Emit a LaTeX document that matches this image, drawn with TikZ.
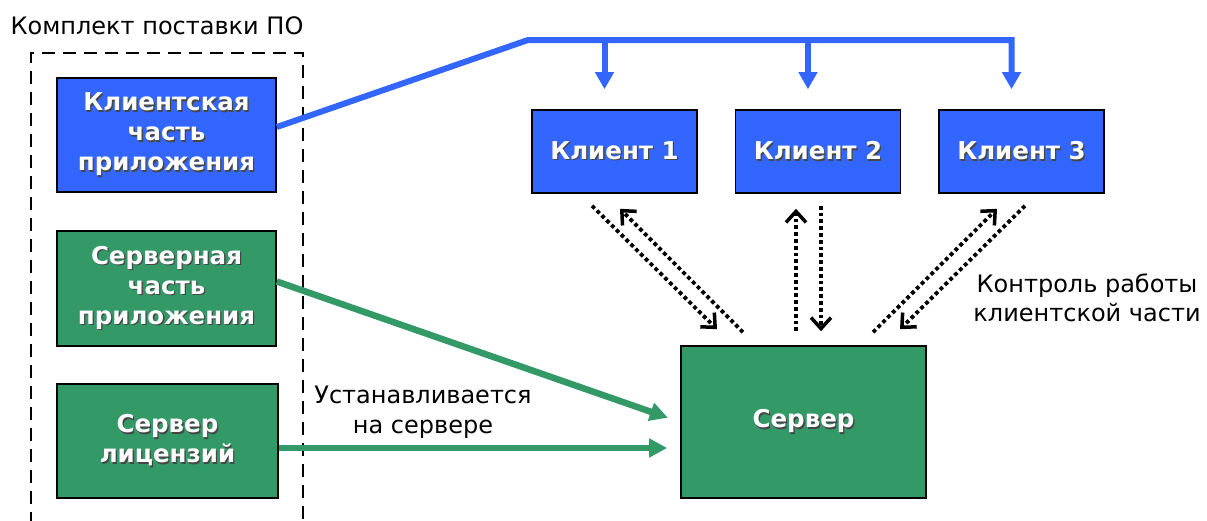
\documentclass[tikz,border=0pt]{standalone}
\usepackage{fontspec}
\setmainfont{DejaVu Sans}
\usetikzlibrary{arrows.meta,calc}
\definecolor{cblue}{RGB}{51,102,255}
\definecolor{cgreen}{RGB}{51,153,102}
\definecolor{shad}{RGB}{70,70,70}
\newcommand{\sht}[1]{\leavevmode\rlap{\raisebox{-1.3pt}{\hspace{1.3pt}\textcolor{shad}{#1}}}#1}
\begin{document}
\begin{tikzpicture}[x=1pt,y=-1pt,
  box/.style={draw=black,line width=1.6pt,inner sep=0pt,text=white,align=center,
    font=\fontsize{24.5}{30}\selectfont\bfseries},
  bluebox/.style={box,fill=cblue},
  greenbox/.style={box,fill=cgreen},
  lbl/.style={align=center,font=\fontsize{24}{29.5}\selectfont,inner sep=0pt},
  busline/.style={draw=cblue,line width=6pt,line join=miter},
  busarrow/.style={busline,-{Triangle[length=17pt,width=18pt]},shorten >=20pt},
  greenarrow/.style={draw=cgreen,line width=6.5pt,-{Triangle[length=18pt,width=18pt]},shorten >=13pt},
  dotarrow/.style={draw=black,line width=3.8pt,dash pattern=on 3.8pt off 3pt,
    -{Straight Barb[length=11pt,width=20pt,line width=3.5pt]}},
  frame/.style={draw=black,line width=2.3pt,dash pattern=on 13pt off 8pt}
]
\useasboundingbox (0,0) rectangle (1207,520);

% title
\node[lbl] (title) at (157,26) {Комплект поставки ПО};
% package frame
\draw[frame] (31,525) -- (31,53) -- (303,53) -- (303,525);

% left boxes
\node[bluebox,minimum width=219pt,minimum height=114pt] (cp) at (166.5,135)
  {\sht{Клиентская}\\\sht{часть}\\\sht{приложения}};
\node[greenbox,minimum width=219pt,minimum height=115pt] (sp) at (166.5,288.5)
  {\sht{Серверная}\\\sht{часть}\\\sht{приложения}};
\node[greenbox,minimum width=221pt,minimum height=114pt] (ls) at (167.5,441)
  {\sht{Сервер}\\\sht{лицензий}};

% clients
\node[bluebox,minimum width=165pt,minimum height=83pt] (k1) at (614.5,151.5) {\sht{Клиент 1}};
\node[bluebox,minimum width=165pt,minimum height=83pt] (k2) at (818,151.5) {\sht{Клиент 2}};
\node[bluebox,minimum width=165pt,minimum height=83pt] (k3) at (1021.5,151.5) {\sht{Клиент 3}};

% server
\node[greenbox,minimum width=245pt,minimum height=152pt] (srv) at (803.5,422) {\sht{Сервер}};

% blue bus
\coordinate (b0) at (528,40);
\draw[busarrow] ([yshift=8pt]cp.east) -- (b0) -- ([xshift=-10pt]k3.north |- b0) -- ([xshift=-10pt]k3.north);
\draw[busarrow] ([xshift=-10pt]k1.north |- b0) -- ([xshift=-10pt]k1.north);
\draw[busarrow] ([xshift=-10pt]k2.north |- b0) -- ([xshift=-10pt]k2.north);

% green arrows
\draw[greenarrow] ([yshift=7pt]sp.east) -- (srv.west);
\draw[greenarrow] ([yshift=-7pt]ls.east) -- ([yshift=-26pt]srv.west);

% labels
\node[lbl] (inst) at (423,412) {Устанавливается\\на сервере};
\node[lbl] (ctrl) at (1087,298) {Контроль работы\\клиентской части};

% dotted arrows, client 1
\draw[dotarrow] ($(k1.south)+(-22.5,12)$) -- ($(srv.north)+(-86.5,-16)$);
\draw[dotarrow] ($(srv.north)+(-60.5,-13)$) -- ($(k1.south)+(5.5,15)$);
% client 2
\draw[dotarrow] ($(srv.north)+(-7.5,-14)$) -- ($(k2.south)+(-22,15)$);
\draw[dotarrow] ($(k2.south)+(3,12)$) -- ($(srv.north)+(17.5,-14)$);
% client 3
\draw[dotarrow] ($(srv.north)+(69.5,-13)$) -- ($(k3.south)+(-24.5,15)$);
\draw[dotarrow] ($(k3.south)+(3.5,12)$) -- ($(srv.north)+(96.5,-16)$);
\end{tikzpicture}
\end{document}
